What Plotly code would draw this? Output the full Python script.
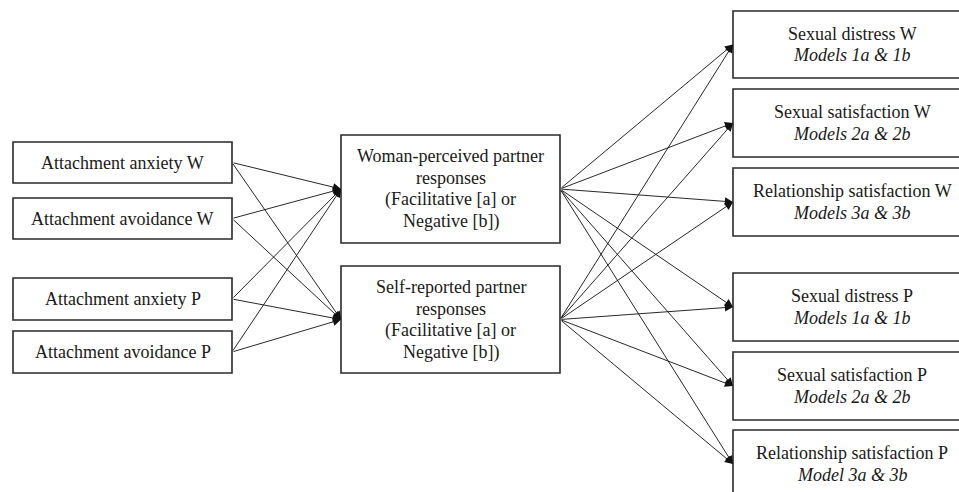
import plotly.graph_objects as go

# ---- data (text content of the path diagram) ----
predictors = ["Attachment anxiety W", "Attachment avoidance W",
              "Attachment anxiety P", "Attachment avoidance P"]
mediators = [["Woman-perceived partner", "responses", "(Facilitative [a] or", "Negative [b])"],
             ["Self-reported partner", "responses", "(Facilitative [a] or", "Negative [b])"]]
outcomes = ["Sexual distress W", "Sexual satisfaction W", "Relationship satisfaction W",
            "Sexual distress P", "Sexual satisfaction P", "Relationship satisfaction P"]
outcome_models = ["Models 1a & 1b", "Models 2a & 2b", "Models 3a & 3b",
                  "Models 1a & 1b", "Models 2a & 2b", "Model 3a & 3b"]

# ---- layout geometry (pixels in the final page) ----
W, H = 959, 492
left_x = (13, 232)
left_y = [(142, 183), (198, 239), (278, 320), (331, 373)]
mid_x = (341, 560)
mid_y = [(135, 243), (266, 373)]
right_x = (733, 971)
right_y = [(11, 78), (89, 157), (168, 236), (273, 341), (352, 420), (430, 498)]

FONT = "Liberation Serif, Times New Roman, serif"
FS = 18
LS = 21.8
BOX_COL = "#2a2a2a"
LINE_COL = "#111111"
TXT_COL = "#1a1a1a"

shapes = []
annotations = []

def box(x, y):
    shapes.append(dict(type="rect", xref="x", yref="y", x0=x[0], x1=x[1], y0=y[0], y1=y[1],
                       line=dict(color=BOX_COL, width=1.6), fillcolor="rgba(0,0,0,0)", layer="above"))

def label(lines, x, y):
    cx = (x[0] + x[1]) / 2
    cy = (y[0] + y[1]) / 2
    n = len(lines)
    for i, t in enumerate(lines):
        annotations.append(dict(text=t, x=cx, y=cy + (i - (n - 1) / 2) * LS, xref="x", yref="y",
                                showarrow=False, font=dict(family=FONT, size=FS, color=TXT_COL),
                                xanchor="center", yanchor="middle", align="center"))

def arrow(x0, y0, x1, y1):
    annotations.append(dict(text="", x=x1, y=y1, ax=x0, ay=y0, xref="x", yref="y",
                            axref="x", ayref="y", showarrow=True, arrowhead=2, arrowsize=1.8,
                            arrowwidth=0.9, arrowcolor=LINE_COL, standoff=0))

def mid(y):
    return (y[0] + y[1]) / 2

# arrows: predictors -> mediators
for py in left_y:
    for my in mid_y:
        arrow(left_x[1], mid(py), mid_x[0], mid(my))
# arrows: mediators -> outcomes
for my in mid_y:
    for oy in right_y:
        arrow(mid_x[1], mid(my), right_x[0], mid(oy))

for name, y in zip(predictors, left_y):
    box(left_x, y)
    label([name], left_x, y)
for lines, y in zip(mediators, mid_y):
    box(mid_x, y)
    label(lines, mid_x, y)
for name, model, y in zip(outcomes, outcome_models, right_y):
    box(right_x, y)
    label([name, f"<i>{model}</i>"], right_x, y)

fig = go.Figure()
fig.add_trace(go.Scatter(x=[0, W], y=[0, H], mode="markers", marker=dict(opacity=0),
                         hoverinfo="skip", showlegend=False))
fig.update_layout(
    width=W, height=H, margin=dict(l=0, r=0, t=0, b=0),
    paper_bgcolor="white", plot_bgcolor="white",
    xaxis=dict(range=[0, W], visible=False, fixedrange=True),
    yaxis=dict(range=[H, 0], visible=False, fixedrange=True),
    shapes=shapes, annotations=annotations, showlegend=False,
)
fig.write_html("out.html", config={"displayModeBar": False},
               post_script="document.body.style.margin='0';document.body.style.overflow='hidden';")
